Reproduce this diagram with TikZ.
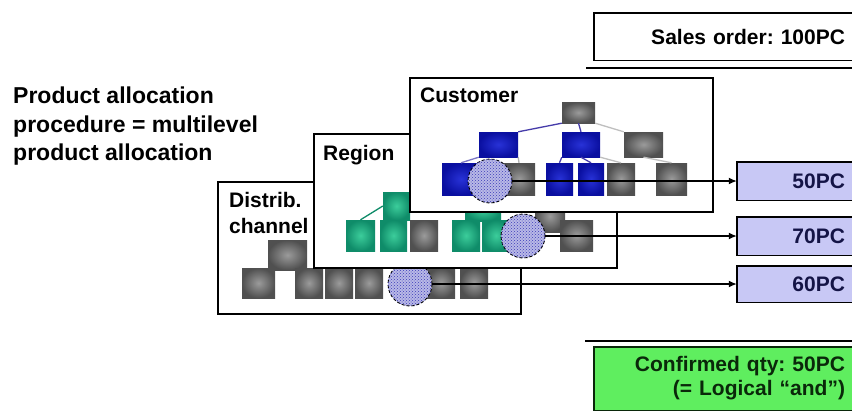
\documentclass[tikz,border=0pt]{standalone}
\usepackage{fontspec}
\setmainfont{Liberation Sans}
\usetikzlibrary{arrows.meta,patterns}

\definecolor{lavbox}{RGB}{200,200,245}
\definecolor{okgreen}{RGB}{95,238,95}
\definecolor{navytxt}{RGB}{20,20,70}
\definecolor{darkgrn}{RGB}{10,40,10}
\definecolor{sqblue}{RGB}{10,15,160}
\definecolor{sqbluec}{RGB}{40,50,215}
\definecolor{sqgreen}{RGB}{15,140,105}
\definecolor{sqgreenc}{RGB}{60,205,155}
\definecolor{sqgray}{RGB}{80,80,80}
\definecolor{sqgrayc}{RGB}{155,155,155}
\definecolor{spotfill}{RGB}{185,185,230}
\definecolor{spotblue}{RGB}{60,60,185}
\definecolor{twigblue}{RGB}{70,60,170}

\tikzset{
  lbl/.style={font=\bfseries\fontsize{21}{26}\selectfont, inner sep=0pt, anchor=north west, align=left},
  frame/.style={draw=black, fill=white, line width=1.3pt},
  gsq/.style 2 args={inner sep=0pt, minimum width=#1, minimum height=#2, inner color=sqgrayc, outer color=sqgray},
  bsq/.style 2 args={inner sep=0pt, minimum width=#1, minimum height=#2, inner color=sqbluec, outer color=sqblue},
  tsq/.style 2 args={inner sep=0pt, minimum width=#1, minimum height=#2, inner color=sqgreenc, outer color=sqgreen},
  spot/.style={circle, minimum size=44pt, inner sep=0pt, fill=spotfill, draw=black, densely dashed, line width=0.9pt,
    postaction={pattern=crosshatch dots, pattern color=spotblue}},
  twig/.style={line width=1.3pt},
  qty/.style={fill=lavbox, minimum width=115pt, minimum height=38pt, text width=101pt, inner xsep=7pt, align=right,
    font=\bfseries\fontsize{21}{24}\selectfont, text=navytxt},
  rim/.style={line width=1.4pt},
  arr/.style={-{Latex[length=8pt,width=7pt]}, line width=1.3pt}
}

\begin{document}
\frenchspacing
\begin{tikzpicture}[x=1pt,y=-1pt]
\useasboundingbox (0,0) rectangle (852,410);

% heading on the left
\node[lbl, font=\bfseries\fontsize{23}{28.5}\selectfont] (intro) at (13,87) {Product allocation\\procedure = multilevel\\product allocation};

% distribution channel level
\draw[frame] (218,182) rectangle (521,314);
\node[lbl] (dlbl) at (229,192) {Distrib.\\channel};
\node[gsq={39}{30}] (d0) at (287.5,255) {};
\node[gsq={33}{30}] (d1) at (258.5,283) {};
\node[gsq={28}{30}] (d2) at (309,283) {};
\node[gsq={28}{30}] (d3) at (339,283) {};
\node[gsq={28}{30}] (d4) at (369,283) {};
\node[gsq={28}{30}] (d5) at (441,283) {};
\node[gsq={28}{30}] (d6) at (474,283) {};
\node[spot] (dc) at (410,284) {};

% region level
\draw[frame] (314,134) rectangle (617,268);
\node[lbl] (rlbl) at (323,145) {Region};
\node[tsq={27}{28}] (r1) at (396.5,206) {};
\node[tsq={36}{22}] (r2) at (483,210) {};
\node[gsq={30}{32}] (r3) at (550,216) {};
\node[tsq={29}{31}] (r4) at (360.5,235.5) {};
\draw[twig, sqgreen] (r1.west) -- (r4.north);
\node[tsq={27}{31}] (r5) at (393.5,235.5) {};
\node[gsq={28}{31}] (r6) at (424,235.5) {};
\node[tsq={28}{31}] (r7) at (466,235.5) {};
\node[tsq={28}{31}] (r8) at (496,235.5) {};
\node[gsq={33}{31}] (r9) at (576.5,235.5) {};
\node[spot] (rc) at (523,236) {};

% customer level
\draw[frame] (410,78) rectangle (713,212);
\node[lbl] (clbl) at (420,88) {Customer};
\node[gsq={33}{21}] (c0) at (578.5,112.5) {};
\node[bsq={39}{25}] (c1) at (498.5,144.5) {};
\node[bsq={38}{25}] (c2) at (581,144.5) {};
\node[gsq={39}{25}] (c3) at (643.5,144.5) {};
\node[bsq={38}{32}] (c4) at (461,179) {};
\node[gsq={32}{32}] (c5) at (519,179) {};
\node[bsq={27}{32}] (c6) at (559.5,179) {};
\node[bsq={26}{32}] (c7) at (591,179) {};
\node[gsq={28}{32}] (c8) at (621,179) {};
\node[gsq={31}{32}] (c9) at (671.5,179) {};
\draw[twig, twigblue] (c0.south west) -- (c1.north east);
\draw[twig, twigblue] (c0.south) -- (c2.north);
\draw[twig, gray!50] (c0.south east) -- (c3.north west);
\draw[twig, twigblue!70] (c1.south west) -- (c4.north);
\draw[twig, gray!60] (c1.south east) -- (c5.north);
\draw[twig, twigblue] (c2.south west) -- (c6.north);
\draw[twig, twigblue] (c2.south) -- (c7.north);
\draw[twig, gray!50] (c2.south east) -- (c8.north);
\draw[twig, gray!50] (c3.south) -- (c9.north);
\node[spot] (cc) at (490,181) {};

% sales order
\node[minimum width=258pt, minimum height=47pt, text width=244pt, inner xsep=7pt, align=right,
  font=\bfseries\fontsize{21}{24}\selectfont] (sales) at (723,36.5) {Sales order: 100PC};
\draw[rim] (sales.north east) -| (sales.south west) -- (sales.south east);
\draw[line width=2pt] (586,68) -- (852,68);

% allocated quantities
\node[qty] (b50) at (794.5,181) {50PC};
\node[qty] (b70) at (794.5,236) {70PC};
\node[qty, minimum height=36pt] (b60) at (794.5,284) {60PC};
\foreach \b in {b50,b70,b60}
  \draw[rim] (\b.north east) -| (\b.south west) -- (\b.south east);

\draw[arr] (cc.east) -- (b50.west);
\draw[arr] (rc.east) -- (b70.west);
\draw[arr] (dc.east) -- (b60.west);

% confirmed quantity
\draw[line width=2pt] (585,341) -- (852,341);
\node[fill=okgreen, minimum width=258pt, minimum height=63pt, text width=244pt, inner xsep=7pt, align=right,
  font=\bfseries\fontsize{21}{24}\selectfont, text=darkgrn] (conf) at (723,378.5) {Confirmed qty: 50PC\\(= Logical “and”)};
\draw[rim, darkgrn] (conf.north east) -| (conf.south west) -- (conf.south east);
\end{tikzpicture}
\end{document}
